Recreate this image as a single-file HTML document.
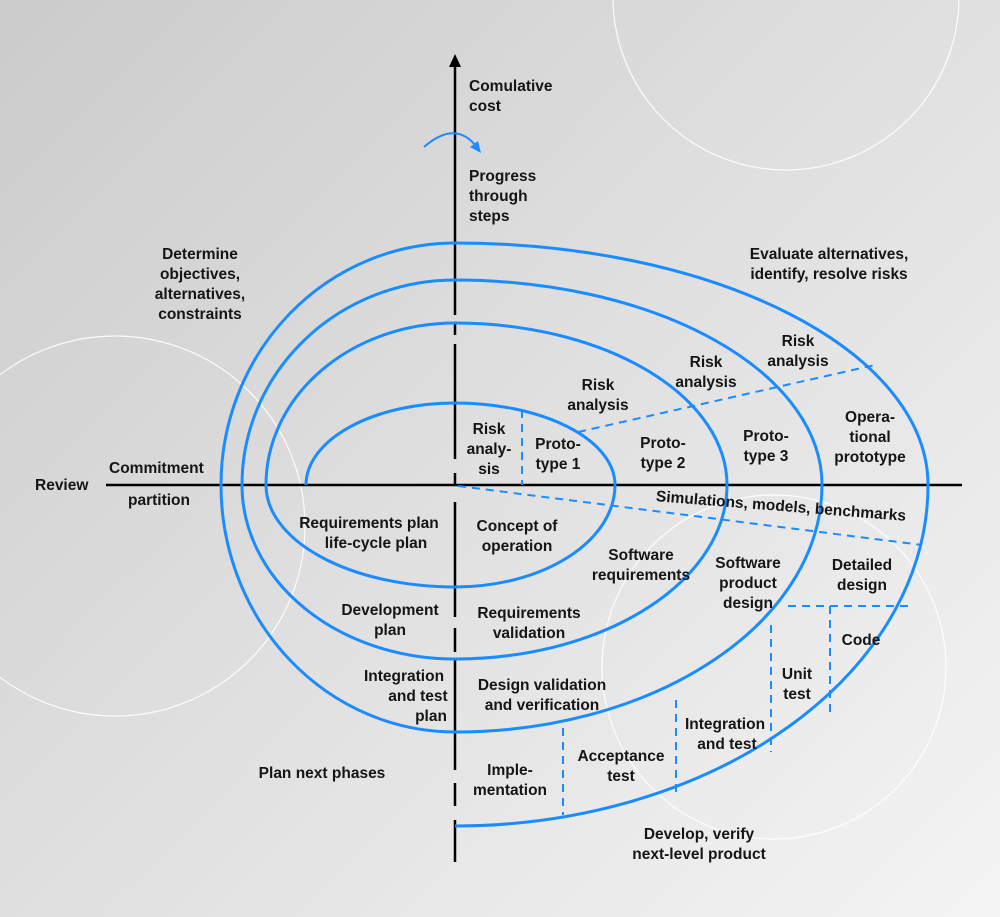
<!DOCTYPE html>
<html><head><meta charset="utf-8"><style>
html,body{margin:0;padding:0}
body{width:1000px;height:917px;overflow:hidden;background:linear-gradient(135deg,#cbcbcb 0%,#dedede 45%,#f4f4f4 100%);font-family:"Liberation Sans",sans-serif}
svg{position:absolute;left:0;top:0}
text{font-family:"Liberation Sans",sans-serif;font-weight:bold;font-size:15.5px;fill:#151515}
</style></head><body>
<svg width="1000" height="917" viewBox="0 0 1000 917">
<g fill="none" stroke="#fff" stroke-width="1.2" opacity="0.9">
<circle cx="786" cy="-3" r="173"/>
<circle cx="115" cy="526" r="190"/>
<circle cx="774" cy="667" r="172"/>
</g>
<g stroke="#000" stroke-width="2.5" fill="none">
<line x1="106" y1="485" x2="962" y2="485"/>
<path d="M455 65 V315 M455 323 V335 M455 344 V459 M455 473 V485 M455 502 V617 M455 628 V652 M455 658 V770 M455 783 V806 M455 820 V862"/>
</g>
<polygon points="455,54 449,67 461,67" fill="#000"/>
<path fill="none" stroke="#1a8cff" stroke-width="3" d="
M306 485 A149 82 0 0 1 455 403 A160 82 0 0 1 615 485 A160 102 0 0 1 455 587 A189 102 0 0 1 266 485
A189 162 0 0 1 455 323 A272 162 0 0 1 727 485 A272 174 0 0 1 455 659 A213 174 0 0 1 242 485
A213 205 0 0 1 455 280 A367 205 0 0 1 822 485 A367 247 0 0 1 455 732 A234 247 0 0 1 221 485
A234 242 0 0 1 455 243 A473 242 0 0 1 928 485 A473 341 0 0 1 455 826"/>
<g stroke="#1a8cff" stroke-width="2" stroke-dasharray="8,6" fill="none">
<line x1="458" y1="486" x2="922" y2="545"/>
<line x1="578" y1="432" x2="875" y2="365"/>
<line x1="522" y1="410" x2="522" y2="485"/>
<line x1="788" y1="606" x2="908" y2="606"/>
<line x1="830" y1="606" x2="830" y2="715"/>
<line x1="771" y1="625" x2="771" y2="752"/>
<line x1="676" y1="700" x2="676" y2="795"/>
<line x1="563" y1="728" x2="563" y2="815"/>
</g>
<path d="M424 147 Q455 120 476 146" fill="none" stroke="#1a8cff" stroke-width="2"/>
<polygon points="481,153 470,147 478,141" fill="#1a8cff"/>
<g text-anchor="start">
<text x="469" y="91">Comulative</text><text x="469" y="111">cost</text>
<text x="469" y="181">Progress</text><text x="469" y="201">through</text><text x="469" y="221">steps</text>
<text x="35" y="490">Review</text>
<text x="109" y="473">Commitment</text>
<text x="128" y="505">partition</text>
</g>
<g text-anchor="middle">
<text x="200" y="259">Determine</text><text x="200" y="279">objectives,</text><text x="200" y="299">alternatives,</text><text x="200" y="319">constraints</text>
<text x="829" y="259">Evaluate alternatives,</text><text x="829" y="279">identify, resolve risks</text>
<text x="798" y="346">Risk</text><text x="798" y="366">analysis</text>
<text x="706" y="367">Risk</text><text x="706" y="387">analysis</text>
<text x="598" y="390">Risk</text><text x="598" y="410">analysis</text>
<text x="489" y="434">Risk</text><text x="489" y="454">analy-</text><text x="489" y="474">sis</text>
<text x="558" y="449">Proto-</text><text x="558" y="469">type 1</text>
<text x="663" y="448">Proto-</text><text x="663" y="468">type 2</text>
<text x="766" y="441">Proto-</text><text x="766" y="461">type 3</text>
<text x="870" y="422">Opera-</text><text x="870" y="442">tional</text><text x="870" y="462">prototype</text>
<text x="369" y="528">Requirements plan</text><text x="376" y="548">life-cycle plan</text>
<text x="517" y="531">Concept of</text><text x="517" y="551">operation</text>
<text x="641" y="560">Software</text><text x="641" y="580">requirements</text>
<text x="748" y="568">Software</text><text x="748" y="588">product</text><text x="748" y="608">design</text>
<text x="862" y="570">Detailed</text><text x="862" y="590">design</text>
<text x="861" y="645">Code</text>
<text x="797" y="679">Unit</text><text x="797" y="699">test</text>
<text x="390" y="615">Development</text><text x="390" y="635">plan</text>
<text x="529" y="618">Requirements</text><text x="529" y="638">validation</text>
<text x="404" y="681">Integration</text><text x="418" y="701">and test</text><text x="431" y="721">plan</text>
<text x="542" y="690">Design validation</text><text x="542" y="710">and verification</text>
<text x="725" y="729">Integration</text><text x="727" y="749">and test</text>
<text x="621" y="761">Acceptance</text><text x="621" y="781">test</text>
<text x="510" y="775">Imple-</text><text x="510" y="795">mentation</text>
<text x="322" y="778">Plan next phases</text>
<text x="699" y="839">Develop, verify</text><text x="699" y="859">next-level product</text>
</g>
<text x="781" y="511" text-anchor="middle" transform="rotate(4.5 781 506)">Simulations, models, benchmarks</text>
</svg>
</body></html>
